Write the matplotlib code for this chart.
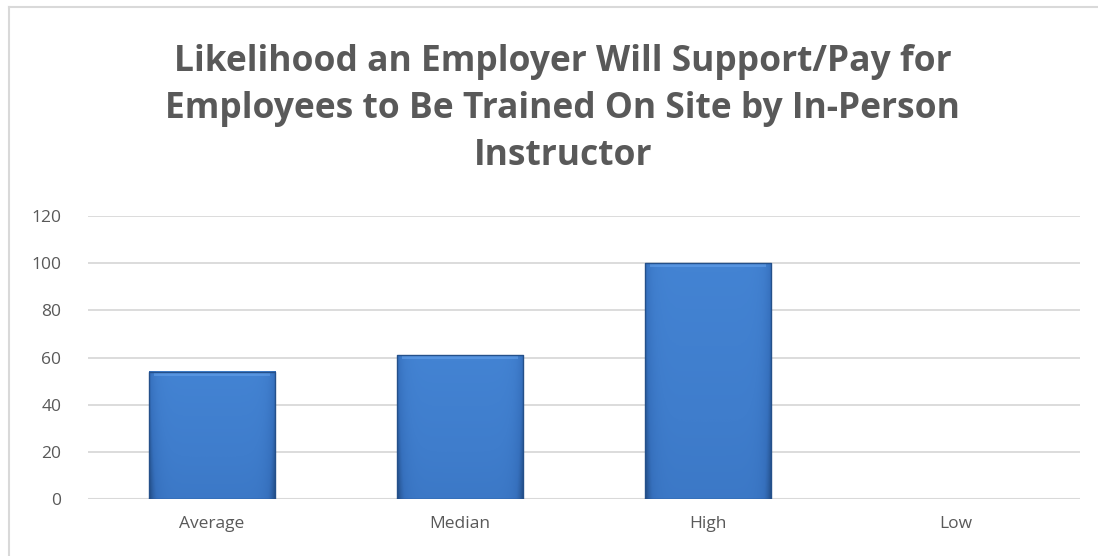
import numpy as np
import matplotlib.pyplot as plt
from matplotlib.colors import LinearSegmentedColormap
from matplotlib.lines import Line2D

categories = ['Average', 'Median', 'High', 'Low']
values = [54, 61, 100, 0]
y_ticks = [0, 20, 40, 60, 80, 100, 120]

title = ('Likelihood an Employer Will Support/Pay for\n'
         'Employees to Be Trained On Site by In-Person\n'
         'Instructor')

text_grey = '#595959'
grid_grey = '#d9d9d9'

fig = plt.figure(figsize=(10.98, 5.56), dpi=100)
ax = fig.add_axes([0.080, 0.1025, 0.9036, 0.509])

x = np.arange(len(categories))
bars = ax.bar(x, values, width=0.51, color='#3a74c2', zorder=2)

# shaded fill for each bar: lighter in the middle, darker at the edges
shade = LinearSegmentedColormap.from_list(
    'bar_shade', ['#234e88', '#3670bd', '#3f7dcc', '#4586d6'])
for b in bars:
    h = b.get_height()
    if h <= 0:
        continue
    x0, w = b.get_x(), b.get_width()
    horiz = np.abs(np.linspace(-1, 1, 200))
    vert = np.linspace(0, 1, 200)[:, None]
    grad = 0.55 + 0.35 * vert - 0.6 * horiz[None, :] ** 8
    ax.imshow(np.clip(grad, 0, 1), cmap=shade, vmin=0, vmax=1, aspect='auto',
              extent=(x0, x0 + w, 0, h), origin='lower', zorder=3,
              interpolation='bilinear')
    # light bevel along the top edge
    ax.fill_between([x0 + w * 0.04, x0 + w * 0.96], h - 1.8, h - 0.3,
                    color='#6aa6ee', alpha=0.5, zorder=4, lw=0)
    ax.plot([x0, x0 + w, x0 + w, x0, x0], [0, 0, h, h, 0],
            color='#24508a', lw=1.0, zorder=5)

ax.set_xlim(-0.5, len(categories) - 0.5)
ax.set_ylim(0, 120)
ax.set_yticks(y_ticks)
ax.set_xticks(x)
ax.set_xticklabels(categories)
ax.yaxis.grid(True, color=grid_grey, lw=1.3, zorder=0)
ax.set_axisbelow(True)
for s in ax.spines.values():
    s.set_visible(False)
ax.axhline(0, color=grid_grey, lw=1.5, zorder=1)
ax.tick_params(axis='both', length=0, labelsize=12.5, labelcolor=text_grey,
               pad=12)
ax.tick_params(axis='y', pad=19)
for lab in ax.get_xticklabels() + ax.get_yticklabels():
    lab.set_fontfamily('Open Sans')

fig.text(0.5125, 0.804, title, ha='center', va='center', fontsize=25.5,
         fontweight='bold', color=text_grey, family='Open Sans',
         linespacing=1.40)

# chart frame (left and top edges)
fig.add_artist(Line2D([0.008, 0.008], [0, 0.987], color='#d9d9d9', lw=1.5,
                      transform=fig.transFigure))
fig.add_artist(Line2D([0.008, 1.0], [0.987, 0.987], color='#d9d9d9', lw=1.5,
                      transform=fig.transFigure))

fig.savefig('out.png', dpi=100)
